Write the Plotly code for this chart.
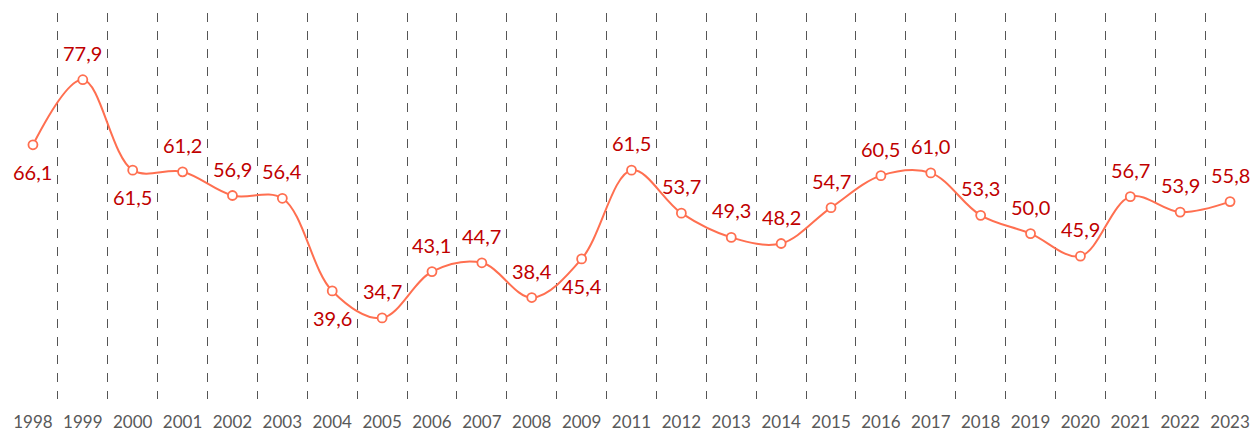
import plotly.graph_objects as go

years = ["1998", "1999", "2000", "2001", "2002", "2003", "2004", "2005", "2006",
         "2007", "2008", "2009", "2011", "2012", "2013", "2014", "2015", "2016",
         "2017", "2018", "2019", "2020", "2021", "2022", "2023"]
values = [66.1, 77.9, 61.5, 61.2, 56.9, 56.4, 39.6, 34.7, 43.1,
          44.7, 38.4, 45.4, 61.5, 53.7, 49.3, 48.2, 54.7, 60.5,
          61.0, 53.3, 50.0, 45.9, 56.7, 53.9, 55.8]
label_below = ["1998", "2000", "2004", "2009"]

LINE = "#FF6F50"
LABEL = "#C00000"
FONT = "Lato, 'Open Sans', sans-serif"

fig = go.Figure()
fig.add_trace(go.Scatter(
    x=years, y=values, mode="lines+markers",
    line=dict(color=LINE, width=2, shape="spline", smoothing=1),
    marker=dict(size=9, color="white", line=dict(color=LINE, width=1.8)),
    hoverinfo="skip", showlegend=False,
))

for i, (yr, v) in enumerate(zip(years, values)):
    below = yr in label_below
    fig.add_annotation(
        x=i, y=v, xref="x", yref="y",
        text=f"{v:.1f}".replace(".", ","),
        showarrow=False,
        yshift=-27 if below else 27,
        font=dict(family=FONT, size=20, color=LABEL),
    )

fig.update_layout(
    width=1255, height=432,
    margin=dict(l=8, r=0, t=13, b=33, autoexpand=False),
    paper_bgcolor="white", plot_bgcolor="white",
    font=dict(family=FONT),
    xaxis=dict(
        type="category", tickson="boundaries", automargin=False,
        showgrid=True, gridcolor="#555555", gridwidth=1, griddash="dash",
        showline=False, zeroline=False, ticks="", ticklabelstandoff=11,
        tickfont=dict(family=FONT, size=17, color="#595959"),
        range=[-0.5, len(years) - 0.5],
    ),
    yaxis=dict(
        range=[20, 90], showgrid=False, zeroline=False, automargin=False,
        showticklabels=False, showline=False, ticks="",
    ),
)

fig.write_html(
    "out.html",
    config={"displayModeBar": False, "staticPlot": True},
    post_script="document.body.style.margin='0';document.documentElement.style.overflow='hidden';",
)
